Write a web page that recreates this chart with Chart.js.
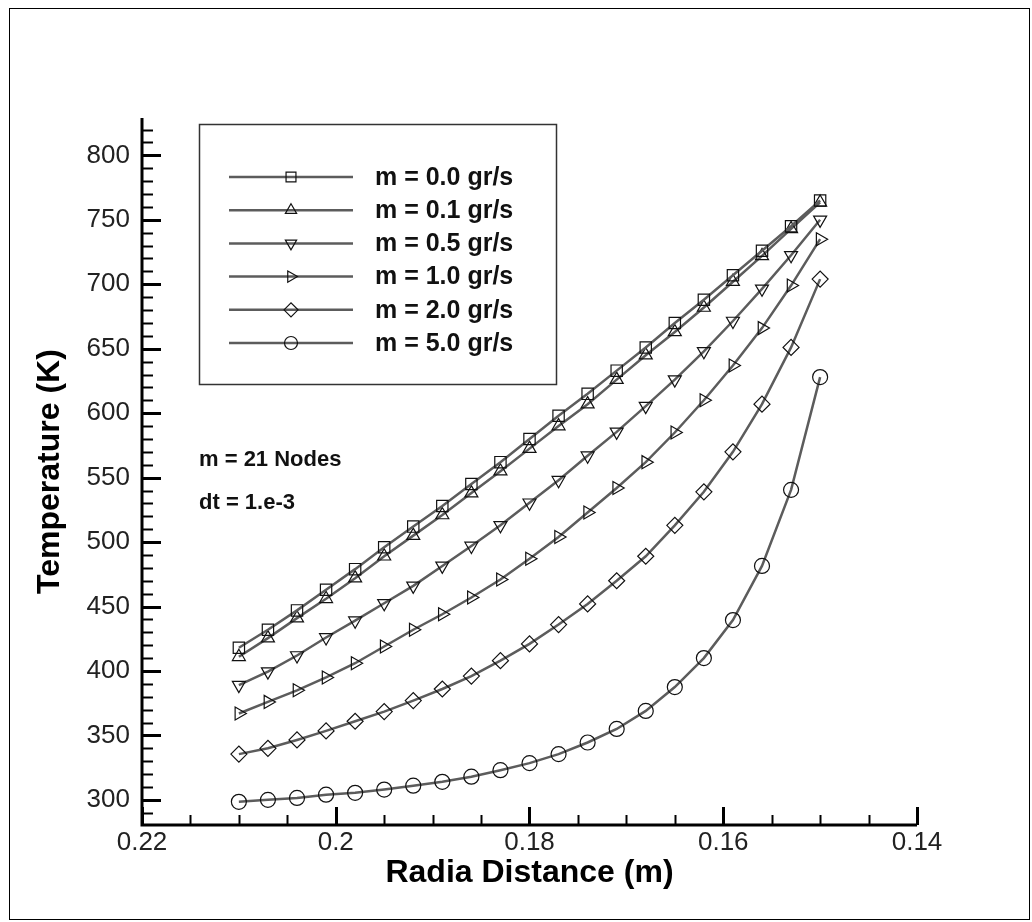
<!DOCTYPE html>
<html>
<head>
<meta charset="utf-8">
<script src="https://cdn.jsdelivr.net/npm/chart.js"></script>
<style>
  html, body { margin: 0; padding: 0; background: #fff; }
  #wrap { width: 1032px; height: 922px; }
</style>
</head>
<body>
<div id="wrap"><canvas id="chart" width="1032" height="922"></canvas></div>
<script>
// ---- data ----
const radius = [0.210, 0.207, 0.204, 0.201, 0.198, 0.195, 0.192, 0.189, 0.186, 0.183, 0.180,
                0.177, 0.174, 0.171, 0.168, 0.165, 0.162, 0.159, 0.156, 0.153, 0.150];

const m00 = [418, 432, 447, 463, 479, 496, 512, 528, 545, 562, 580, 598, 615, 633, 651, 670, 688, 707, 726, 745, 765];
const m01 = [411, 425.5, 441, 456, 472, 489, 505, 521, 538, 555, 572.5, 590, 607, 626, 645, 663, 682, 702, 722, 743, 763.5];
const m05 = [389, 399.5, 412, 426, 439, 452.5, 466, 481.5, 497, 513, 530.5, 548, 567, 585.5, 605.5, 626, 648, 671.5, 696.5, 722.5, 750];
const m10 = [367, 376, 385, 395, 406, 419, 432, 444, 457, 471, 487, 504, 523, 542, 562, 585, 610, 637, 666, 699, 735];
const m20 = [335.5, 340, 346.5, 353.5, 361, 368.5, 377, 386, 396, 408, 421, 436, 452, 470, 489, 513, 539, 570, 607, 651, 704];
const m50 = [298.5, 300, 301.5, 304, 305.5, 308, 311, 314, 318, 323, 328.5, 335.5, 344.5, 355, 369, 387.5, 410, 439.5, 481.5, 540.5, 628];

const labels = ["m = 0.0 gr/s", "m = 0.1 gr/s", "m = 0.5 gr/s", "m = 1.0 gr/s", "m = 2.0 gr/s", "m = 5.0 gr/s"];
const xTicks = [0.22, 0.2, 0.18, 0.16, 0.14];
const yTicks = [300, 350, 400, 450, 500, 550, 600, 650, 700, 750, 800];
const notes = ["m = 21 Nodes", "dt = 1.e-3"];

// ---- styles ----
const FONT = '"Liberation Sans", Arial, sans-serif';
const markers = [
  { style: "rect", rotation: 0, r: 8 },
  { style: "triangle", rotation: 0, r: 7.5 },
  { style: "triangle", rotation: 180, r: 7.5 },
  { style: "triangle", rotation: 90, r: 7.5 },
  { style: "rectRot", rotation: 0, r: 8 },
  { style: "circle", rotation: 0, r: 7.5 }
];
const series = [m00, m01, m05, m10, m20, m50];

const datasets = series.map((vals, i) => ({
  label: labels[i],
  data: vals.map((v, k) => ({ x: radius[k], y: v })),
  borderColor: "#5c5c5c",
  borderWidth: 2.5,
  tension: 0,
  fill: false,
  pointStyle: markers[i].style,
  pointRotation: markers[i].rotation,
  pointRadius: markers[i].r,
  pointBorderColor: "#111",
  pointBorderWidth: 1.2,
  pointBackgroundColor: "rgba(0,0,0,0)"
}));

// axes with inward major/minor ticks, boxed legend, notes, frame
const decor = {
  id: "decor",
  afterDraw(chart) {
    const { ctx, chartArea: a, scales: { x, y } } = chart;
    ctx.save();

    // outer frame
    ctx.strokeStyle = "#000";
    ctx.lineWidth = 1;
    ctx.strokeRect(9.5, 8.5, 1020, 911);

    // axis lines
    ctx.lineWidth = 3;
    ctx.beginPath();
    ctx.moveTo(a.left, a.top);
    ctx.lineTo(a.left, a.bottom);
    ctx.lineTo(a.right, a.bottom);
    ctx.stroke();

    // x ticks (minor every 0.005)
    for (let k = 0; k <= 16; k++) {
      const v = 0.14 + k * 0.005;
      const px = Math.round(x.getPixelForValue(v)) + 0.5;
      const major = k % 4 === 0;
      ctx.lineWidth = major ? 3 : 2;
      ctx.beginPath();
      ctx.moveTo(px, a.bottom);
      ctx.lineTo(px, a.bottom - (major ? 18 : 10));
      ctx.stroke();
    }
    // y ticks (minor every 10)
    for (let v = 290; v <= 820; v += 10) {
      const py = Math.round(y.getPixelForValue(v)) + 0.5;
      const major = v % 50 === 0;
      ctx.lineWidth = major ? 3 : 2;
      ctx.beginPath();
      ctx.moveTo(a.left, py);
      ctx.lineTo(a.left + (major ? 19 : 11), py);
      ctx.stroke();
    }

    // legend box
    ctx.lineWidth = 1.5;
    ctx.strokeStyle = "#333";
    ctx.strokeRect(199.5, 124.5, 357, 260);

    chart.data.datasets.forEach((ds, i) => {
      const ry = 177 + i * 33.2;
      ctx.strokeStyle = ds.borderColor;
      ctx.lineWidth = ds.borderWidth;
      ctx.beginPath();
      ctx.moveTo(229, ry);
      ctx.lineTo(353, ry);
      ctx.stroke();
      ctx.strokeStyle = ds.pointBorderColor;
      ctx.fillStyle = "rgba(0,0,0,0)";
      ctx.lineWidth = ds.pointBorderWidth;
      Chart.helpers.drawPoint(ctx, {
        pointStyle: ds.pointStyle,
        rotation: ds.pointRotation,
        radius: ds.pointRadius - 1,
        borderWidth: ds.pointBorderWidth
      }, 291, ry);
      ctx.fillStyle = "#111";
      ctx.font = "bold 25px " + FONT;
      ctx.textBaseline = "middle";
      ctx.textAlign = "left";
      ctx.fillText(ds.label, 375, ry + 1);
    });

    // notes
    ctx.fillStyle = "#111";
    ctx.font = "bold 22px " + FONT;
    ctx.textBaseline = "alphabetic";
    ctx.fillText(notes[0], 199, 466);
    ctx.fillText(notes[1], 199, 509);

    ctx.restore();
  }
};

new Chart(document.getElementById("chart"), {
  type: "line",
  data: { datasets },
  plugins: [decor],
  options: {
    responsive: false,
    animation: false,
    events: [],
    layout: { padding: { left: 0, top: 118, right: 115, bottom: 0 } },
    plugins: { legend: { display: false }, tooltip: { enabled: false } },
    scales: {
      x: {
        type: "linear",
        min: 0.14,
        max: 0.22,
        reverse: true,
        afterBuildTicks: s => { s.ticks = xTicks.map(v => ({ value: v })); },
        afterFit: s => { s.height = 97; },
        grid: { display: false, drawTicks: false },
        border: { display: false },
        ticks: {
          autoSkip: false,
          maxRotation: 0,
          padding: 2,
          color: "#222",
          font: { family: FONT, size: 26 },
          callback: v => String(v)
        },
        title: {
          display: true,
          text: "Radia Distance (m)",
          color: "#000",
          font: { family: FONT, size: 32, weight: "bold" },
          padding: { top: 0, bottom: 30 }
        }
      },
      y: {
        type: "linear",
        min: 280.5,
        max: 829,
        afterBuildTicks: s => { s.ticks = yTicks.map(v => ({ value: v })); },
        afterFit: s => { s.width = 142; },
        grid: { display: false, drawTicks: false },
        border: { display: false },
        ticks: {
          padding: 12,
          color: "#222",
          font: { family: FONT, size: 26 }
        },
        title: {
          display: true,
          text: "Temperature (K)",
          color: "#000",
          font: { family: FONT, size: 32, weight: "bold" },
          padding: { top: 31, bottom: 0 }
        }
      }
    }
  }
});
</script>
</body>
</html>
